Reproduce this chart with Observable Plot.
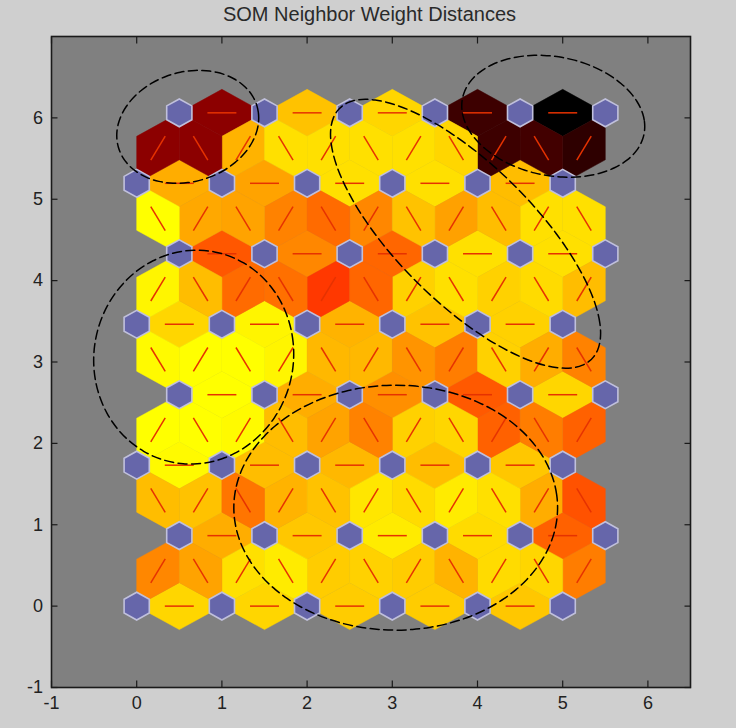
<!DOCTYPE html>
<html>
<head>
<meta charset="utf-8">
<script src="https://cdn.jsdelivr.net/npm/d3@7"></script>
<script src="https://cdn.jsdelivr.net/npm/@observablehq/plot@0.6"></script>
<style>
html,body{margin:0;padding:0;background:#cfcfcf;}
#title{height:28px;text-align:center;font:20px "Liberation Sans",Arial,sans-serif;line-height:28px;color:#2a2a2a;width:739px;}
svg{display:block;}
</style>
</head>
<body>
<div id="title">SOM Neighbor Weight Distances</div>
<div id="chart"></div>
<script>
const xTicks = [-1,0,1,2,3,4,5,6];
const yTicks = [-1,0,1,2,3,4,5,6];
const rowStep = 0.866;
const neuronCols = [0,1,2,3,4,5];
const neuronRows = [0,1,2,3,4,5,6,7];

// Distances between neighbouring neurons: horizontal links per neuron row
const linkRow0 = [.08,.08,.10,.10,.11];
const linkRow1 = [.16,.11,.04,.07,.31];
const linkRow2 = [.01,.13,.14,.13,.11];
const linkRow3 = [0,.16,.22,.325,.08];
const linkRow4 = [.08,.02,.15,.12,.09];
const linkRow5 = [.33,.235,.30,.06,.06];
const linkRow6 = [.16,.18,.06,.06,.13];
const linkRow7 = [.725,.12,.08,.88,1];

// Diagonal links between neuron rows k and k+1
const diagRow0 = [.235,.18,.06,.04,.10,.09,.10,.15,.07,.08,.255];
const diagRow1 = [.13,.12,.27,.15,.12,.05,.07,.04,.06,.16,.34];
const diagRow2 = [0,0,.01,.13,.18,.245,.09,.08,.31,.255,.31];
const diagRow3 = [.01,0,0,.02,.14,.14,.21,.255,.09,.16,.245];
const diagRow4 = [.02,.13,.29,.28,.39,.30,.09,.06,.09,.07,.13];
const diagRow5 = [0,.17,.18,.245,.29,.235,.12,.185,.13,.06,.06];
const diagRow6 = [.725,.725,.15,.06,.06,.06,.06,.08,.88,.87,.91];

// Dashed annotation ellipses: centre x, centre y, x extent, y extent, tilt phase
const ellipseTopLeft = [.599,5.89,.833,.694,.156];
const ellipseTopRight = [4.889,6.02,1.074,.749,-.17];
const ellipseCentre = [3.86,4.576,1.585,1.652,-.834];
const ellipseLeft = [.669,3.06,1.174,1.314,.03];
const ellipseBottom = [3.04,1.21,1.90,1.505,0];

const linkRows = [linkRow0,linkRow1,linkRow2,linkRow3,linkRow4,linkRow5,linkRow6,linkRow7];
const diagRows = [diagRow0,diagRow1,diagRow2,diagRow3,diagRow4,diagRow5,diagRow6];
const ellipses = [ellipseTopLeft,ellipseTopRight,ellipseCentre,ellipseLeft,ellipseBottom];

const halfLine = 0.17;
const flat = [], rising = [], falling = [];
linkRows.forEach((row,k)=>row.forEach((d,i)=>{
  flat.push({x:i+(k%2?1:0.5),y:k*rowStep,d,dx:halfLine,dy:0});
}));
diagRows.forEach((row,k)=>row.forEach((d,i)=>{
  const up = (i%2===0)===(k%2===0);
  (up?rising:falling).push({x:0.25+i*0.5,y:(k+0.5)*rowStep,d,dx:halfLine*0.5,dy:(up?1:-1)*halfLine*rowStep});
}));
const cells = [...flat,...rising,...falling];
const neurons = neuronRows.flatMap(k=>neuronCols.map(c=>({x:c+(k%2?0.5:0),y:k*rowStep})));
const outline = ellipses.flatMap(([cx,cy,rx,ry,phase],id)=>
  d3.range(0,360,6).map(deg=>{const t=deg*Math.PI/180;return {id,x:cx+rx*Math.cos(t),y:cy+ry*Math.sin(t+phase)};}));

// Plot pixel sizes of one data unit
const W = 736, H = 700, mL = 51, mR = 46, mT = 8, mB = 41;
const ux = (W-mL-mR)/7.5, uy = (H-mT-mB)/8;

// Neuron marker: pointy-top hexagon, regular in data units
const hexagon = {draw(ctx,size){
  const rx = Math.sqrt(size/Math.PI), ry = rx*1.1547*(uy/ux), h = ry/2;
  ctx.moveTo(0,ry);ctx.lineTo(rx,h);ctx.lineTo(rx,-h);ctx.lineTo(0,-ry);ctx.lineTo(-rx,-h);ctx.lineTo(-rx,h);ctx.closePath();
}};
// Cells are rhombi spanning neuron to neuron, with side vertices on the lattice triangle centres
const rhombus = (ax,ay,bx,by)=>({draw(ctx){
  ctx.moveTo(ax*ux,-ay*uy);ctx.lineTo(bx*ux,-by*uy);ctx.lineTo(-ax*ux,ay*uy);ctx.lineTo(-bx*ux,by*uy);ctx.closePath();
}});
const tip = rowStep/3;
const flatCell = rhombus(0.5,0,0,tip);
const risingCell = rhombus(0.25,rowStep/2,0.25,-tip/2);
const fallingCell = rhombus(-0.25,rowStep/2,-0.25,-tip/2);
const cellStyle = {x:"x",y:"y",r:1,fill:"d",stroke:"d",strokeWidth:0.5};
const axisStyle = {label:null,tickSize:-6.5,stroke:"#1a1a1a",strokeWidth:1.2};

const chart = Plot.plot({
  width:W, height:H,
  marginLeft:mL, marginRight:mR, marginTop:mT, marginBottom:mB,
  style:{background:"transparent",fontFamily:'"Liberation Sans",Arial,sans-serif',fontSize:"18px",color:"#222"},
  x:{domain:[-1,6.5],axis:null},
  y:{domain:[-1,7],axis:null},
  color:{type:"linear",domain:[0,.5,1],range:["#ffff00","#ff0000","#000000"],interpolate:"rgb"},
  marks:[
    Plot.frame({fill:"#808080"}),
    Plot.dot(flat,{...cellStyle,symbol:flatCell}),
    Plot.dot(rising,{...cellStyle,symbol:risingCell}),
    Plot.dot(falling,{...cellStyle,symbol:fallingCell}),
    Plot.link(cells,{x1:d=>d.x-d.dx,y1:d=>d.y-d.dy,x2:d=>d.x+d.dx,y2:d=>d.y+d.dy,stroke:"#e63200",strokeWidth:1.5}),
    Plot.dot(neurons,{x:"x",y:"y",r:12.6,symbol:hexagon,fill:"#6666aa",stroke:"#c0c0dc",strokeWidth:1.6}),
    Plot.line(outline,{x:"x",y:"y",z:"id",curve:"catmull-rom-closed",stroke:"#000",strokeWidth:1.5,strokeDasharray:"9 4.5"}),
    Plot.axisX({...axisStyle,ticks:xTicks,anchor:"bottom",tickPadding:15,tickFormat:d=>String(d),fontSize:18}),
    Plot.axisX({...axisStyle,ticks:xTicks,anchor:"top",tickFormat:()=>""}),
    Plot.axisY({...axisStyle,ticks:yTicks,anchor:"left",tickPadding:15,tickFormat:d=>String(d),fontSize:18}),
    Plot.axisY({...axisStyle,ticks:yTicks,anchor:"right",tickFormat:()=>""}),
    Plot.frame({stroke:"#1a1a1a",strokeWidth:1.6})
  ]
});
document.getElementById("chart").appendChild(chart);
</script>
</body>
</html>
